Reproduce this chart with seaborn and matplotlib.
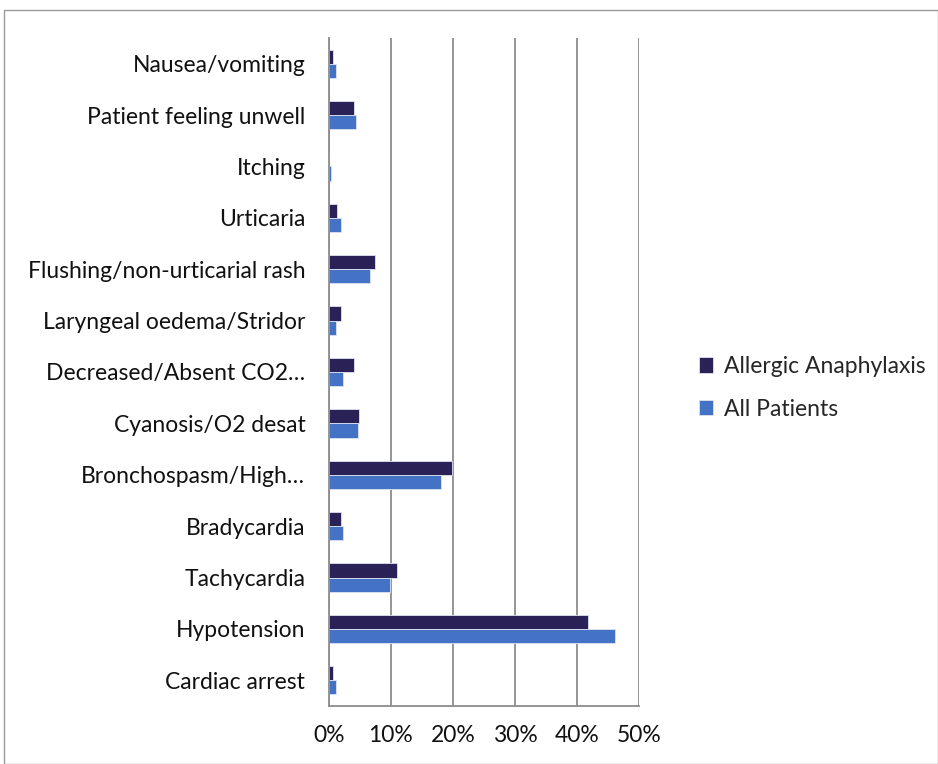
import numpy as np
import pandas as pd
import matplotlib
matplotlib.use("Agg")
import matplotlib.pyplot as plt
import seaborn as sns
from matplotlib.patches import Rectangle
from matplotlib.ticker import FixedLocator, PercentFormatter

# DATA (top to bottom as shown)
symptoms = [
    "Nausea/vomiting",
    "Patient feeling unwell",
    "Itching",
    "Urticaria",
    "Flushing/non-urticarial rash",
    "Laryngeal oedema/Stridor",
    "Decreased/Absent CO2…",
    "Cyanosis/O2 desat",
    "Bronchospasm/High…",
    "Bradycardia",
    "Tachycardia",
    "Hypotension",
    "Cardiac arrest",
]
allergic = [0.65, 4.0, 0.0, 1.35, 7.5, 2.0, 4.0, 4.8, 19.9, 2.0, 11.0, 41.8, 0.65]
all_patients = [1.1, 4.3, 0.4, 1.9, 6.6, 1.1, 2.2, 4.7, 18.0, 2.3, 9.8, 46.1, 1.1]
series = ["Allergic Anaphylaxis", "All Patients"]
colors = ["#2a2256", "#4472c4"]

df = pd.DataFrame({
    "symptom": symptoms * 2,
    "value": allergic + all_patients,
    "series": [series[0]] * len(symptoms) + [series[1]] * len(symptoms),
})

sns.set_style("white")
plt.rcParams["font.family"] = ["Lato", "DejaVu Sans"]
fs = 16.5

fig = plt.figure(figsize=(9.38, 7.64), dpi=100)
ax = fig.add_axes([0.3507, 0.0759, 0.3305, 0.8744])

sns.barplot(
    data=df, y="symptom", x="value", hue="series",
    order=symptoms, hue_order=series, palette=colors, saturation=1,
    orient="h", width=0.55, ax=ax, edgecolor="#dde3f0", linewidth=0.6,
    legend=True,
)

ax.set_xlim(0, 50)
ax.set_ylim(len(symptoms) - 0.5, -0.5)
ax.set_xticks(np.arange(0, 51, 10))
ax.xaxis.set_major_formatter(PercentFormatter(decimals=0))
ax.grid(axis="x", color="#8c8c8c", linewidth=1.3)
ax.set_axisbelow(True)
ax.set_xlabel("")
ax.set_ylabel("")

for s in ["top", "right"]:
    ax.spines[s].set_visible(False)
for s in ["left", "bottom"]:
    ax.spines[s].set_color("#8c8c8c")
    ax.spines[s].set_linewidth(1.3)

ax.tick_params(axis="y", which="major", length=0, pad=17, labelsize=fs, labelcolor="#111111")
ax.yaxis.set_minor_locator(FixedLocator(np.arange(-0.5, len(symptoms), 1.0)))
ax.tick_params(axis="y", which="minor", length=6, width=1.3, color="#8c8c8c", direction="out")
ax.tick_params(axis="x", which="major", length=6, width=1.3, color="#8c8c8c",
               direction="out", labelsize=fs, labelcolor="#111111", pad=8)

leg = ax.legend(
    loc="upper left", bbox_to_anchor=(0.735, 0.546), bbox_transform=fig.transFigure,
    frameon=False, fontsize=fs, handlelength=0.65, handleheight=0.65,
    handletextpad=0.45, labelspacing=0.95, borderaxespad=0,
)

fig.patches.append(Rectangle((0.004, 0.0), 0.996, 0.987, transform=fig.transFigure,
                             fill=False, edgecolor="#9a9a9a", linewidth=1.0))

fig.savefig("out.png", dpi=100)
